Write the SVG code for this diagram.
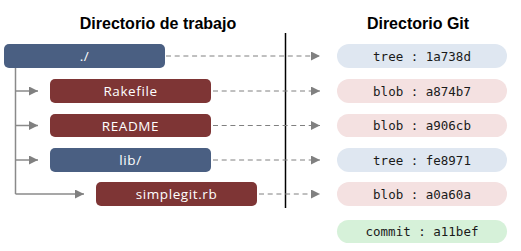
<svg xmlns="http://www.w3.org/2000/svg" width="521" height="251" viewBox="0 0 521 251">
  <defs>
    <marker id="head" viewBox="0 0 10 10" refX="10" refY="5" markerWidth="13" markerHeight="9" markerUnits="userSpaceOnUse" orient="auto">
      <path d="M0,0 L10,5 L0,10 Z" fill="#808080"/>
    </marker>
    <style>
      .title { font-family: "Liberation Sans", Arial, sans-serif; font-weight: bold; font-size: 16px; fill: #000; text-anchor: middle; }
      .box-blue { fill: #4a5f82; }
      .box-red { fill: #7e3535; }
      .box-text { font-family: "Open Sans", "Noto Sans", sans-serif; font-size: 13.5px; letter-spacing: 0.6px; fill: #ffffff; text-anchor: middle; dominant-baseline: central; }
      .obj-text { font-family: "DejaVu Sans Mono", monospace; font-size: 12.5px; fill: #1a1a1a; text-anchor: middle; dominant-baseline: central; }
      .tree { fill: #dfe7f1; }
      .blob { fill: #f4e1e1; }
      .commit { fill: #d6f1d9; }
      .branch { fill: none; stroke: #8a8a8a; stroke-width: 1.5; }
      .link { fill: none; stroke: #808080; stroke-width: 1; stroke-dasharray: 5 3.7; }
    </style>
  </defs>

  <rect width="521" height="251" fill="#ffffff"/>

  <text class="title" x="158" y="29">Directorio de trabajo</text>
  <text class="title" x="418" y="29">Directorio Git</text>

  <!-- separator between working tree and object store -->
  <line x1="285.5" y1="33" x2="285.5" y2="208" stroke="#000" stroke-width="1.5"/>

  <!-- connectors -->
  <g id="connectors">
    <path class="branch" d="M15.5,68 V194"/>
    <path class="branch" d="M15.5,91 H38" marker-end="url(#head)"/>
    <path class="branch" d="M15.5,125.5 H38" marker-end="url(#head)"/>
    <path class="branch" d="M15.5,160 H38" marker-end="url(#head)"/>
    <path class="branch" d="M15.5,194 H84" marker-end="url(#head)"/>

    <path class="link" d="M166,56 H320" marker-end="url(#head)"/>
    <path class="link" d="M213,91 H320" marker-end="url(#head)"/>
    <path class="link" d="M213,125.5 H320" marker-end="url(#head)"/>
    <path class="link" d="M213,160 H320" marker-end="url(#head)"/>
    <path class="link" d="M259,194 H320" marker-end="url(#head)"/>
  </g>

  <!-- working directory entries -->
  <g id="root">
    <rect class="box-blue" x="4" y="44" width="161" height="24" rx="5"/>
    <text class="box-text" x="84.5" y="56">./</text>
  </g>
  <g id="rakefile">
    <rect class="box-red" x="50" y="79" width="161" height="24" rx="5"/>
    <text class="box-text" x="130.5" y="91">Rakefile</text>
  </g>
  <g id="readme">
    <rect class="box-red" x="50" y="114" width="161" height="23" rx="5"/>
    <text class="box-text" x="130.5" y="125.5">README</text>
  </g>
  <g id="lib">
    <rect class="box-blue" x="50" y="148" width="161" height="24" rx="5"/>
    <text class="box-text" x="130.5" y="160">lib/</text>
  </g>
  <g id="simplegit">
    <rect class="box-red" x="96" y="182" width="161" height="24" rx="5"/>
    <text class="box-text" x="176.5" y="194">simplegit.rb</text>
  </g>

  <!-- git object store -->
  <g id="tree-1a738d">
    <rect class="tree" x="337" y="44" width="170" height="24" rx="12"/>
    <text class="obj-text" x="422" y="56">tree : 1a738d</text>
  </g>
  <g id="blob-a874b7">
    <rect class="blob" x="337" y="79" width="170" height="24" rx="12"/>
    <text class="obj-text" x="422" y="91">blob : a874b7</text>
  </g>
  <g id="blob-a906cb">
    <rect class="blob" x="337" y="114" width="170" height="23" rx="11.5"/>
    <text class="obj-text" x="422" y="125.5">blob : a906cb</text>
  </g>
  <g id="tree-fe8971">
    <rect class="tree" x="337" y="148" width="170" height="24" rx="12"/>
    <text class="obj-text" x="422" y="160">tree : fe8971</text>
  </g>
  <g id="blob-a0a60a">
    <rect class="blob" x="337" y="182" width="170" height="24" rx="12"/>
    <text class="obj-text" x="422" y="194">blob : a0a60a</text>
  </g>
  <g id="commit-a11bef">
    <rect class="commit" x="337" y="220" width="170" height="23" rx="11.5"/>
    <text class="obj-text" x="422" y="231.5">commit : a11bef</text>
  </g>
</svg>
